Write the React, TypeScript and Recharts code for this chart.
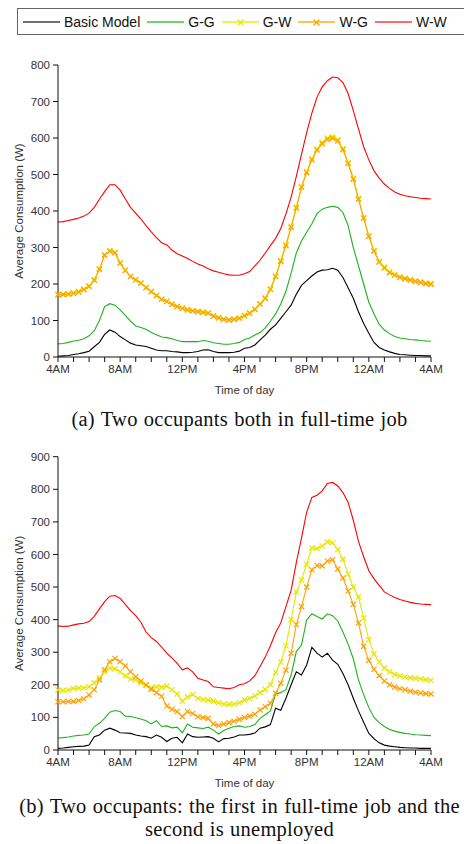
import React from 'react';
import { LineChart, Line, XAxis, YAxis } from 'recharts';

// time axis: 20-minute slots from 4AM to 4AM next day (hours after 4AM)
const slots = Array.from({ length: 73 }, (_, i) => i / 3);
const hourTicks = Array.from({ length: 25 }, (_, i) => i);
const timeLabels = ['4AM', '8AM', '12PM', '4PM', '8PM', '12AM', '4AM'];

const yTicksA = [0, 100, 200, 300, 400, 500, 600, 700, 800];
const yTicksB = [0, 100, 200, 300, 400, 500, 600, 700, 800, 900];

const seriesNames = ['Basic Model', 'G-G', 'G-W', 'W-G', 'W-W'];
const colors = ['#000000', '#1db31d', '#e6e600', '#ffa200', '#ff0000'];
const legendColors = ['#707070', '#6fd36f', '#f0f05a', '#ffc060', '#ff6a6a'];

// (a) both in full-time job
const basicA = [
	2, 3, 4, 7, 9, 12, 16, 28, 40, 62, 74, 68,
	56, 47, 38, 33, 31, 29, 24, 19, 17, 17, 15, 14,
	12, 12, 13, 15, 19, 20, 15, 12, 12, 12, 13, 16,
	24, 26, 33, 47, 60, 76, 88, 106, 124, 142, 172, 196,
	209, 222, 233, 238, 239, 243, 238, 218, 190, 161, 124, 92,
	65, 40, 26, 19, 14, 10, 7, 6, 5, 4, 4, 3,
	3,
];
const ggA = [
	36, 37, 40, 44, 46, 50, 58, 72, 100, 138, 146, 142,
	129, 114, 98, 85, 81, 76, 67, 61, 55, 53, 50, 45,
	42, 42, 42, 42, 45, 43, 39, 37, 35, 35, 37, 40,
	48, 52, 60, 67, 80, 98, 118, 145, 180, 230, 285, 318,
	342, 365, 393, 405, 410, 413, 410, 396, 360, 300, 250, 200,
	150, 118, 90, 74, 64, 56, 52, 50, 48, 47, 45, 44,
	43,
];
const gwA = [
	172, 172, 174, 176, 180, 186, 195, 212, 242, 280, 292, 287,
	258, 238, 222, 212, 203, 191, 180, 169, 159, 153, 145, 139,
	134, 130, 127, 125, 123, 121, 113, 108, 104, 102, 104, 107,
	114, 121, 131, 146, 162, 187, 222, 264, 308, 358, 410, 467,
	508, 543, 570, 588, 600, 603, 595, 571, 533, 490, 435, 382,
	332, 292, 262, 246, 233, 226, 220, 216, 212, 209, 206, 203,
	201,
];
const wgA = [
	170, 171, 172, 174, 178, 184, 193, 210, 240, 279, 290, 285,
	257, 237, 220, 211, 202, 190, 179, 168, 158, 152, 144, 138,
	133, 129, 126, 124, 122, 120, 112, 107, 103, 101, 103, 106,
	113, 120, 130, 145, 160, 185, 220, 262, 305, 355, 408, 465,
	505, 540, 567, 584, 596, 599, 592, 568, 530, 487, 432, 380,
	330, 290, 260, 244, 231, 224, 218, 214, 210, 207, 204, 201,
	199,
];
const wwA = [
	370, 371, 374, 377, 381, 386, 394, 410, 432, 453, 472, 472,
	457, 433, 410, 394, 378, 360, 343, 327, 313, 307, 293, 283,
	277, 270, 262, 255, 249, 242, 236, 232, 228, 225, 224, 224,
	228, 234, 250, 265, 285, 305, 325, 352, 392, 438, 495, 555,
	615, 668, 712, 740, 757, 767, 765, 752, 722, 675, 625, 576,
	540, 510, 490, 474, 462, 452, 446, 442, 439, 437, 435, 434,
	433,
];

// (b) first full-time, second unemployed
const basicB = [
	5, 6, 8, 10, 11, 12, 15, 41, 46, 61, 67, 61,
	53, 52, 51, 46, 43, 41, 36, 46, 39, 26, 36, 39,
	22, 49, 41, 39, 40, 41, 36, 25, 35, 36, 40, 46,
	46, 48, 52, 67, 71, 78, 128, 122, 159, 200, 240, 230,
	261, 315, 297, 285, 297, 276, 263, 235, 200, 159, 120, 85,
	51, 35, 22, 15, 12, 10, 8, 7, 6, 6, 5, 5,
	5,
];
const ggB = [
	37, 38, 40, 43, 45, 46, 49, 72, 82, 97, 116, 121,
	118, 104, 103, 99, 95, 90, 80, 90, 72, 74, 68, 70,
	53, 80, 70, 68, 66, 70, 61, 49, 60, 67, 72, 74,
	70, 72, 78, 97, 108, 120, 172, 176, 185, 230, 302, 322,
	399, 418, 410, 402, 418, 412, 396, 362, 325, 280, 215, 170,
	130, 100, 84, 72, 63, 58, 54, 51, 49, 47, 46, 45,
	44,
];
const gwB = [
	184, 183, 184, 189, 190, 191, 194, 206, 222, 240, 251, 249,
	240, 228, 218, 215, 206, 198, 191, 194, 193, 196, 185, 172,
	150, 163, 170, 158, 155, 153, 150, 145, 141, 140, 141, 145,
	153, 158, 166, 176, 186, 200, 238, 270, 320, 400, 485, 522,
	570, 620, 618, 626, 638, 636, 615, 585, 540, 500, 470, 405,
	338, 295, 270, 252, 240, 232, 227, 224, 222, 220, 218, 216,
	214,
];
const wgB = [
	148, 148, 149, 149, 152, 157, 169, 185, 215, 246, 271, 281,
	271, 258, 240, 225, 212, 200, 186, 176, 165, 135, 125, 118,
	103, 118, 112, 102, 100, 97, 80, 75, 80, 84, 88, 94,
	100, 104, 110, 123, 133, 143, 174, 205, 245, 297, 385, 440,
	500, 553, 566, 565, 580, 584, 555, 528, 488, 447, 390, 318,
	275, 248, 228, 212, 200, 193, 188, 185, 180, 177, 175, 173,
	172,
];
const wwB = [
	381, 379, 380, 384, 387, 389, 394, 410, 433, 455, 472, 474,
	465, 447, 428, 412, 392, 362, 345, 333, 316, 297, 282, 266,
	246, 252, 240, 220, 215, 210, 194, 192, 190, 188, 192, 200,
	203, 212, 228, 256, 285, 320, 360, 390, 440, 490, 575, 650,
	730, 775, 782, 795, 818, 821, 810, 790, 760, 705, 640, 593,
	550, 525, 505, 485, 476, 468, 462, 457, 453, 450, 448, 447,
	446,
];

const sans = 'Liberation Sans, Arial, sans-serif';
const tickStyle = { fontFamily: sans, fontSize: 11.5, fill: '#333' };

const crossDot = (color: string) => (props: any) => {
	const { cx, cy, index } = props;
	if (cx == null || cy == null) return <g key={index} />;
	const s = 2.6;
	return (
		<path
			key={index}
			d={`M${cx - s},${cy - s}L${cx + s},${cy + s}M${cx - s},${cy + s}L${cx + s},${cy - s}`}
			stroke={color}
			strokeWidth={1.2}
			fill='none'
		/>
	);
};

function Panel({ series, yTicks, top, marginTop, height }: any) {
	const data = slots.map((h, i) => {
		const row: any = { h };
		series.forEach((s: number[], k: number) => (row['s' + k] = s[i]));
		return row;
	});
	const yMax = yTicks[yTicks.length - 1];

	return (
		<div style={{ position: 'absolute', left: 0, top }}>
			<LineChart
				width={464}
				height={height}
				data={data}
				margin={{ top: marginTop, right: 33, left: 0, bottom: 13 }}>
				<XAxis
					type='number'
					dataKey='h'
					domain={[0, 24]}
					ticks={hourTicks}
					interval={0}
					tickFormatter={(v: number) => (v % 4 === 0 ? timeLabels[v / 4] : '')}
					tick={tickStyle}
					tickSize={5}
					tickMargin={3}
					stroke='#111'
					height={30}
					label={(p: any) => (
						<text
							x={p.viewBox.x + p.viewBox.width / 2}
							y={p.viewBox.y + 33}
							textAnchor='middle'
							dominantBaseline='central'
							style={tickStyle}>
							Time of day
						</text>
					)}
				/>
				<YAxis
					domain={[0, yMax]}
					ticks={yTicks}
					interval={0}
					tick={tickStyle}
					tickSize={5}
					tickMargin={3}
					stroke='#111'
					width={58}
					label={(p: any) => {
						const cy = p.viewBox.y + p.viewBox.height / 2;
						return (
							<text
								x={19}
								y={cy}
								transform={`rotate(-90 19 ${cy})`}
								textAnchor='middle'
								dominantBaseline='central'
								style={tickStyle}>
								Average Consumption (W)
							</text>
						);
					}}
				/>
				{series.map((_: number[], k: number) => (
					<Line
						key={k}
						type='linear'
						dataKey={'s' + k}
						stroke={colors[k]}
						strokeWidth={1.1}
						dot={k === 2 || k === 3 ? crossDot(colors[k]) : false}
						activeDot={false}
						isAnimationActive={false}
					/>
				))}
			</LineChart>
		</div>
	);
}

function Legend() {
	return (
		<div
			style={{
				position: 'absolute',
				left: 17,
				top: 8,
				width: 480,
				height: 25,
				border: '1px solid #666',
				display: 'flex',
				alignItems: 'center',
				paddingLeft: 5,
				fontFamily: sans,
				fontSize: 14,
				color: '#111',
				whiteSpace: 'nowrap',
			}}>
			{seriesNames.map((name, k) => (
				<div key={name} style={{ display: 'flex', alignItems: 'center', marginRight: 7 }}>
					<svg width={37} height={10}>
						<line x1={0} y1={5} x2={37} y2={5} stroke={legendColors[k]} strokeWidth={2} />
						{(k === 2 || k === 3) && (
							<path d='M15.5,2.5L21.5,8.5M15.5,8.5L21.5,2.5' stroke={colors[k]} strokeWidth={1.2} />
						)}
					</svg>
					<span style={{ marginLeft: 4 }}>{name}</span>
				</div>
			))}
		</div>
	);
}

const captionStyle: React.CSSProperties = {
	position: 'absolute',
	left: 0,
	width: 479,
	fontFamily: 'Liberation Serif, Times New Roman, serif',
	fontSize: 20.5,
	letterSpacing: 0.25,
	wordSpacing: 0.8,
	color: '#111',
	textAlign: 'center',
	whiteSpace: 'nowrap',
	lineHeight: '23px',
};

export default function App() {
	return (
		<div
			style={{
				position: 'absolute',
				left: 0,
				top: 0,
				width: 464,
				height: 844,
				overflow: 'hidden',
				background: '#fff',
			}}>
			<Legend />
			<Panel series={[basicA, ggA, gwA, wgA, wwA]} yTicks={yTicksA} top={50} marginTop={15} height={350} />
			<div style={{ ...captionStyle, top: 408 }}>(a) Two occupants both in full-time job</div>
			<Panel series={[basicB, ggB, gwB, wgB, wwB]} yTicks={yTicksB} top={440} marginTop={16.7} height={353} />
			<div style={{ ...captionStyle, top: 795 }}>(b) Two occupants: the first in full-time job and the</div>
			<div style={{ ...captionStyle, top: 818 }}>second is unemployed</div>
		</div>
	);
}
